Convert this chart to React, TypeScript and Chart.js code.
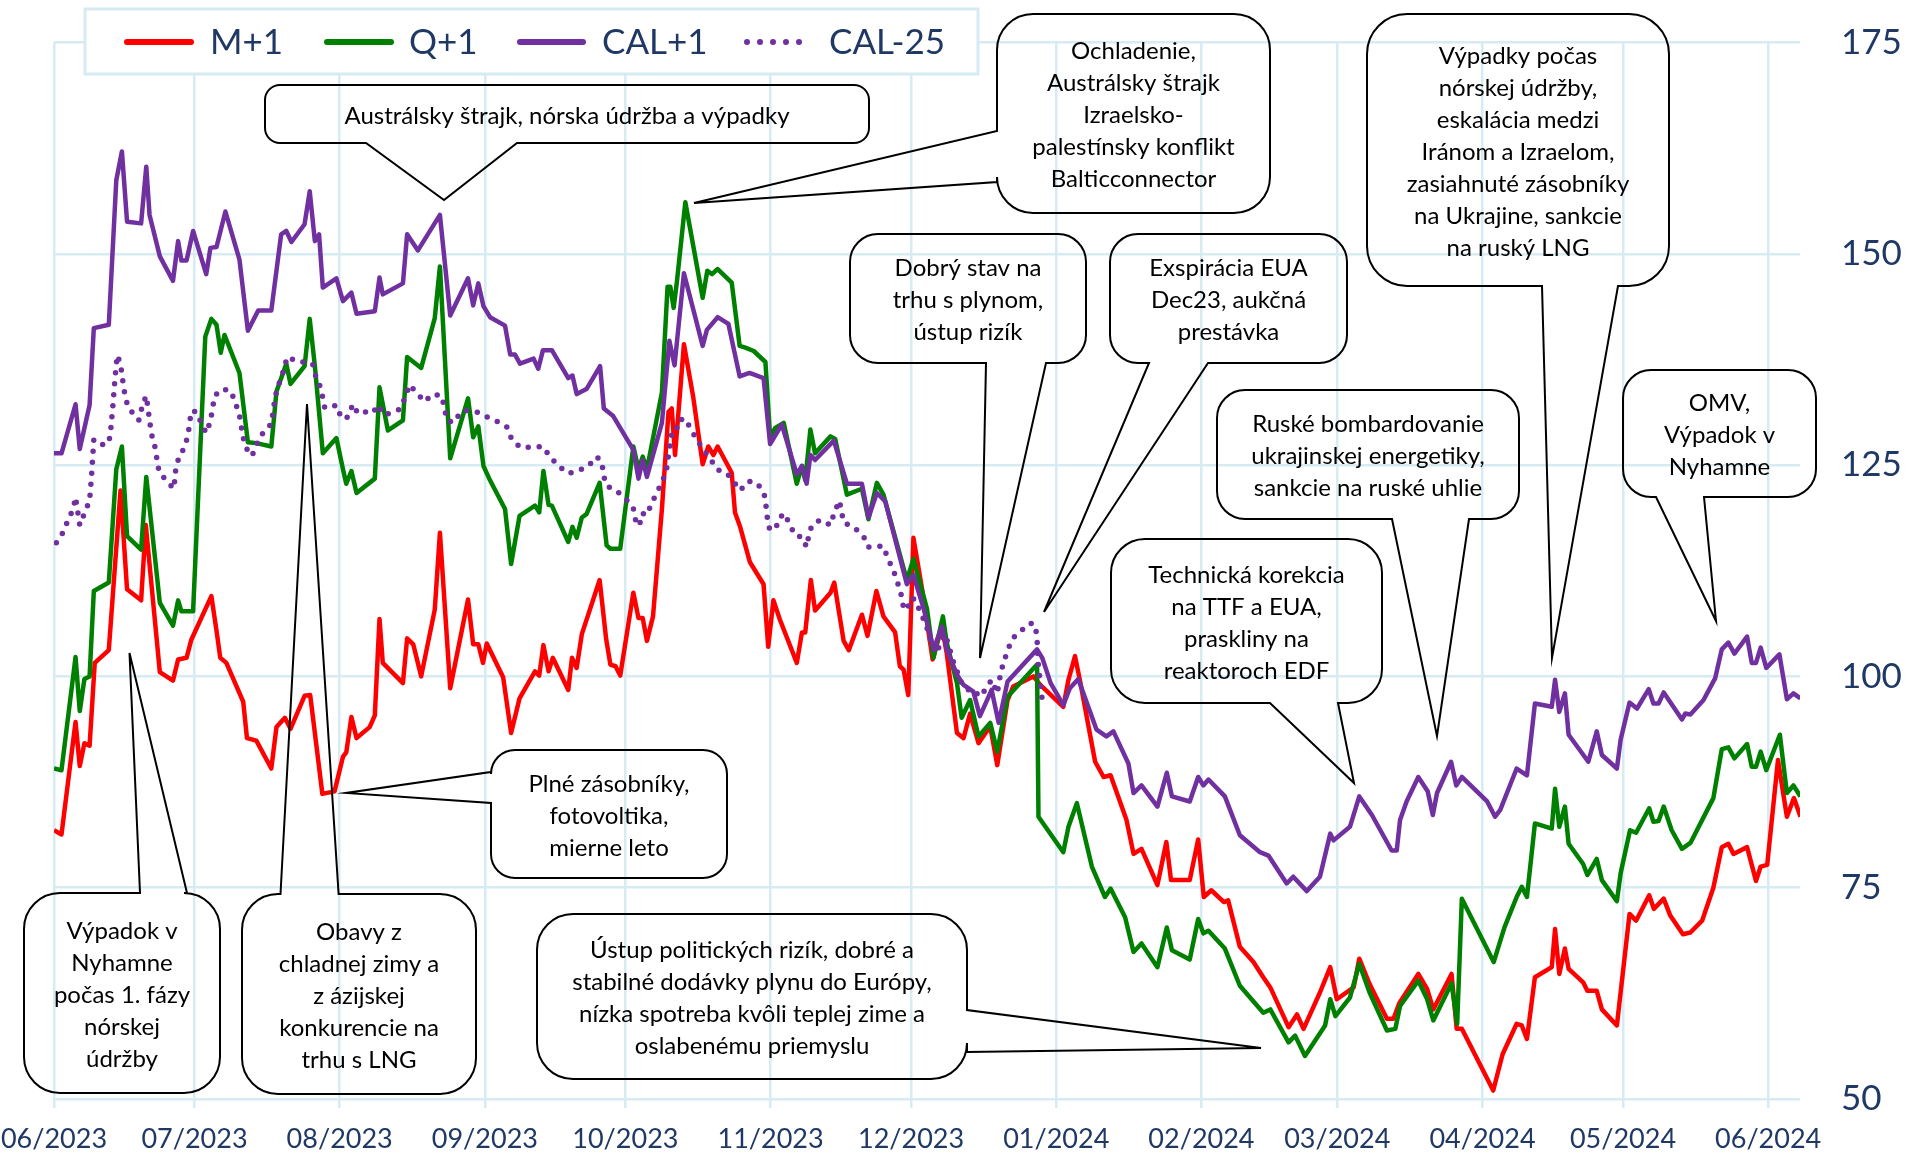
import React, { useEffect, useRef } from "react";
import { Chart, registerables } from "chart.js";

Chart.register(...registerables);

// x values are days counted from 1 June 2023
const MONTH_TICKS = [0, 30, 61, 92, 122, 153, 183, 214, 245, 274, 305, 335, 366];
const MONTH_LABELS = ["06/2023", "07/2023", "08/2023", "09/2023", "10/2023", "11/2023", "12/2023", "01/2024", "02/2024", "03/2024", "04/2024", "05/2024", "06/2024"];
const X_MAX = 372.8;
const Y_MIN = 50;
const Y_MAX = 175;
const Y_STEP = 25;

const SERIES_NAMES = ["M+1", "Q+1", "CAL+1", "CAL-25"];

const M1_DAYS = [0, 1.6, 4.6, 5.5, 6.5, 7.6, 8.7, 11.7, 14.2, 15.6, 18.6, 19.6, 22.6, 25.4, 26.5, 28.3, 29.3, 33.6, 34.7, 35.5, 36.8, 40.4, 41.2, 43.2, 46.4, 47.5, 49.3, 50.5, 53.5, 54.7, 57.3, 59.9, 61.7, 62.4, 63.5, 64.6, 67.4, 68.5, 69.5, 70.2, 74.5, 75.4, 76.7, 78.4, 81.3, 82.4, 84.6, 88.4, 89.5, 90.6, 91.6, 92.4, 95.9, 97.6, 99.4, 102.7, 103.6, 104.5, 105.6, 106.5, 109.8, 110.6, 111.6, 112.7, 116.5, 117.9, 118.8, 119.9, 120.9, 123.7, 124.8, 125.7, 126.6, 127.9, 129.8, 131.2, 131.9, 132.6, 134.5, 136.5, 138.5, 139.7, 140.8, 141.7, 144.7, 145.4, 146.5, 148.6, 151.5, 152.5, 153.6, 155.0, 158.6, 159.7, 160.4, 161.6, 162.5, 165.8, 166.6, 168.6, 169.7, 172.5, 173.7, 175.6, 177.1, 179.6, 180.6, 181.4, 182.4, 183.5, 185.3, 187.6, 189.6, 190.6, 192.8, 194.2, 195.6, 197.4, 199.9, 201.4, 203.6, 204.8, 209.1, 210.6, 215.5, 216.6, 218.0, 219.1, 222.3, 224.1, 225.6, 229.0, 230.5, 232.2, 235.6, 237.5, 238.5, 242.5, 244.3, 245.5, 247.1, 249.8, 250.7, 253.2, 256.1, 258.2, 259.7, 263.6, 265.4, 266.8, 270.3, 272.5, 273.9, 277.5, 278.7, 280.9, 284.6, 286.0, 287.3, 291.3, 293.2, 294.5, 298.4, 299.5, 300.6, 307.3, 309.3, 312.3, 313.4, 314.5, 316.2, 319.8, 320.5, 321.4, 322.6, 323.4, 326.5, 327.4, 329.4, 330.5, 333.7, 336.4, 337.8, 340.6, 341.6, 343.7, 345.1, 347.8, 349.4, 351.9, 354.3, 356.1, 357.5, 358.6, 361.5, 363.4, 364.4, 365.8, 368.1, 370.0, 371.5, 372.9];
const M1_VALUES = [81.8, 81.3, 94.6, 89.4, 92.1, 91.8, 101.6, 103.1, 122.0, 110.3, 109.0, 117.9, 100.5, 99.5, 102.0, 102.2, 104.3, 109.5, 105.4, 102.2, 101.6, 97.0, 92.7, 92.4, 89.1, 94.0, 95.1, 93.8, 97.7, 97.8, 86.1, 86.4, 90.5, 91.0, 95.2, 92.7, 94.0, 95.4, 106.8, 101.6, 99.2, 104.5, 103.8, 100.0, 107.9, 117.0, 98.6, 109.1, 103.8, 103.8, 101.6, 103.9, 99.9, 93.3, 97.4, 100.6, 100.1, 103.7, 100.6, 102.2, 98.4, 102.2, 101.0, 105.0, 111.4, 104.4, 101.4, 101.2, 100.1, 109.9, 106.9, 106.9, 104.2, 107.1, 119.8, 131.3, 131.7, 126.2, 139.3, 133.0, 125.1, 127.2, 126.2, 127.2, 124.1, 119.4, 117.7, 113.5, 110.9, 103.5, 109.0, 106.7, 101.6, 105.2, 105.2, 111.4, 107.8, 109.9, 111.1, 104.2, 103.1, 107.3, 104.8, 110.1, 107.1, 105.2, 101.2, 100.8, 97.8, 116.4, 110.5, 102.0, 105.9, 102.8, 93.3, 92.7, 95.6, 92.1, 94.1, 89.5, 97.2, 98.8, 100.0, 99.0, 96.4, 99.6, 102.4, 99.4, 89.9, 88.1, 88.3, 83.0, 79.0, 79.6, 75.3, 80.4, 75.9, 75.9, 80.7, 73.9, 74.7, 73.3, 73.5, 68.0, 66.2, 64.4, 63.2, 58.5, 60.0, 58.3, 62.6, 65.6, 61.8, 63.2, 66.6, 63.6, 59.5, 59.5, 61.4, 64.8, 63.0, 60.6, 64.8, 58.3, 58.3, 51.0, 55.3, 58.9, 58.7, 57.1, 64.4, 65.6, 70.1, 64.8, 67.8, 65.4, 63.8, 62.8, 62.8, 60.6, 58.7, 71.9, 71.1, 74.1, 72.5, 73.7, 71.7, 69.5, 69.7, 71.1, 75.0, 79.8, 80.2, 79.0, 79.8, 75.8, 77.5, 77.7, 90.1, 83.4, 85.6, 83.4];

const Q1_DAYS = [0, 1.6, 4.6, 5.5, 6.5, 7.6, 8.5, 11.7, 13.3, 14.5, 15.6, 18.6, 19.7, 22.6, 25.4, 26.5, 27.2, 29.7, 32.3, 33.6, 34.7, 35.6, 36.4, 39.6, 41.4, 43.2, 46.4, 47.5, 49.6, 50.5, 53.5, 54.6, 55.7, 57.4, 60.3, 61.7, 62.4, 63.5, 64.6, 68.5, 69.5, 71.3, 74.5, 75.4, 78.4, 81.3, 82.4, 84.6, 88.4, 89.5, 90.6, 91.7, 93.1, 96.3, 97.6, 99.4, 102.7, 103.6, 104.5, 105.6, 106.3, 109.8, 110.7, 111.6, 112.7, 113.7, 116.5, 118.0, 118.8, 120.9, 123.7, 124.8, 125.7, 126.6, 129.8, 131.0, 131.6, 132.3, 133.0, 134.8, 136.7, 138.5, 139.5, 140.5, 141.7, 144.7, 146.4, 147.6, 149.4, 151.9, 152.9, 154.0, 155.8, 158.6, 159.7, 160.4, 161.5, 162.5, 165.8, 166.8, 169.3, 172.5, 173.9, 175.7, 177.1, 182.1, 183.5, 186.4, 187.8, 189.8, 190.6, 192.8, 193.8, 195.6, 197.4, 199.9, 201.4, 203.6, 209.9, 210.2, 215.5, 216.6, 218.4, 221.6, 224.4, 225.6, 228.7, 230.5, 232.2, 235.6, 237.6, 238.7, 242.5, 244.3, 245.4, 246.5, 250.0, 253.2, 258.2, 259.7, 263.6, 265.0, 267.1, 271.4, 272.5, 273.6, 276.7, 278.7, 280.9, 284.6, 286.4, 287.4, 291.3, 293.2, 294.5, 298.4, 299.6, 300.6, 307.4, 309.7, 312.3, 313.4, 314.5, 316.2, 319.8, 320.5, 321.4, 322.6, 323.4, 326.5, 327.4, 329.4, 330.5, 333.7, 334.5, 336.5, 337.8, 340.6, 341.5, 342.6, 343.7, 345.4, 347.6, 349.4, 354.3, 356.1, 357.5, 358.8, 361.5, 362.5, 363.4, 364.4, 365.6, 368.5, 370.0, 371.4, 372.9];
const Q1_VALUES = [89.1, 88.9, 102.3, 95.9, 99.7, 100.0, 110.1, 111.1, 124.5, 127.2, 116.6, 115.0, 123.6, 108.7, 106.0, 109.0, 107.7, 107.7, 140.2, 142.3, 141.6, 138.3, 140.4, 135.9, 127.7, 127.6, 127.2, 133.7, 137.0, 134.6, 136.7, 142.3, 136.7, 126.4, 128.2, 124.5, 122.8, 124.3, 121.7, 123.4, 134.2, 129.1, 130.3, 137.8, 136.5, 142.4, 148.5, 125.8, 132.9, 128.3, 129.6, 124.9, 123.2, 119.8, 113.3, 119.0, 120.2, 119.4, 124.3, 120.3, 120.2, 115.9, 117.7, 116.4, 118.8, 119.2, 122.9, 115.5, 115.1, 115.1, 127.2, 124.5, 126.0, 124.5, 133.6, 146.1, 146.1, 143.6, 146.7, 156.1, 150.3, 144.8, 148.0, 147.6, 148.2, 146.6, 139.1, 138.9, 138.5, 137.2, 128.3, 129.4, 130.0, 122.8, 124.9, 123.2, 129.2, 126.4, 128.4, 128.1, 121.5, 122.2, 118.6, 122.9, 121.5, 111.4, 113.9, 108.0, 102.2, 107.1, 104.0, 99.2, 95.1, 97.2, 92.9, 94.5, 91.1, 97.6, 101.4, 83.4, 79.2, 82.2, 85.0, 77.5, 73.9, 74.9, 71.5, 67.4, 68.4, 65.6, 70.3, 67.6, 66.5, 71.3, 69.6, 69.9, 67.8, 63.4, 60.2, 60.6, 56.7, 57.5, 55.1, 58.7, 61.8, 59.8, 62.0, 66.0, 62.6, 58.1, 58.3, 61.0, 64.0, 61.8, 59.3, 63.7, 58.9, 73.7, 66.2, 70.3, 73.9, 75.1, 73.9, 82.6, 82.0, 86.7, 82.2, 84.6, 80.2, 77.8, 76.5, 78.4, 75.9, 73.4, 76.7, 81.8, 81.5, 84.4, 82.8, 82.9, 84.6, 81.8, 79.6, 80.3, 85.6, 91.4, 91.6, 90.3, 92.0, 89.3, 89.3, 91.1, 88.9, 93.1, 86.2, 87.1, 85.8];

const CAL1_DAYS = [0, 1.6, 4.6, 5.5, 7.6, 8.5, 11.7, 13.3, 14.5, 15.6, 18.6, 19.7, 20.4, 22.6, 25.4, 26.5, 27.2, 28.3, 29.7, 32.5, 33.4, 34.7, 36.6, 39.6, 41.4, 43.6, 46.4, 48.5, 49.6, 50.7, 53.5, 54.6, 55.7, 56.6, 57.4, 60.3, 61.7, 63.5, 64.6, 68.5, 69.5, 70.2, 74.5, 75.4, 77.7, 82.4, 84.6, 88.4, 89.5, 90.6, 91.7, 93.1, 96.3, 97.4, 98.4, 99.5, 102.4, 103.4, 104.4, 106.3, 109.8, 110.7, 111.6, 113.7, 116.6, 117.4, 119.4, 123.7, 124.8, 125.7, 126.6, 129.8, 131.4, 132.5, 134.5, 138.5, 139.4, 141.7, 144.0, 146.4, 148.5, 151.5, 152.9, 155.4, 158.6, 159.7, 160.7, 161.5, 162.5, 166.5, 169.3, 172.5, 173.9, 175.7, 177.5, 182.1, 183.5, 185.7, 187.8, 189.6, 190.6, 192.8, 194.2, 196.3, 197.7, 200.2, 201.7, 203.6, 209.9, 211.0, 212.8, 215.5, 216.9, 218.7, 222.6, 224.7, 226.2, 229.4, 230.5, 232.2, 235.6, 237.6, 238.7, 242.5, 244.3, 245.4, 246.5, 250.0, 253.2, 257.5, 259.3, 263.2, 264.6, 267.5, 270.3, 272.5, 273.2, 276.7, 278.7, 281.4, 285.6, 286.7, 287.4, 288.8, 291.3, 293.3, 294.4, 295.3, 298.3, 299.4, 300.6, 306.0, 307.7, 308.8, 312.3, 314.5, 316.2, 319.8, 320.5, 321.4, 322.6, 323.4, 327.6, 329.4, 330.5, 333.7, 334.5, 336.4, 338.0, 340.5, 341.5, 342.6, 343.7, 347.6, 348.3, 349.4, 352.2, 354.7, 356.1, 357.5, 358.8, 361.5, 362.5, 363.4, 364.4, 365.6, 368.4, 370.0, 371.4, 372.9];
const CAL1_VALUES = [126.4, 126.4, 132.2, 126.9, 132.1, 141.2, 141.6, 158.7, 162.1, 153.8, 153.6, 160.3, 154.6, 149.7, 146.8, 151.5, 149.2, 149.2, 152.7, 147.6, 150.7, 150.8, 155.0, 149.3, 140.9, 143.3, 143.3, 152.3, 152.7, 151.4, 153.5, 157.4, 151.5, 152.3, 146.0, 147.1, 144.4, 145.4, 142.9, 143.2, 147.2, 145.2, 146.5, 152.3, 150.4, 154.6, 142.7, 147.1, 143.9, 146.5, 143.8, 142.5, 141.5, 138.1, 138.1, 137.0, 137.6, 136.4, 138.6, 138.6, 135.3, 135.6, 133.4, 134.0, 136.7, 131.7, 130.8, 126.8, 123.4, 125.6, 123.6, 130.0, 139.7, 136.8, 147.7, 139.1, 141.0, 142.5, 141.7, 135.5, 135.9, 135.3, 127.5, 129.8, 123.9, 124.9, 122.8, 126.2, 125.6, 127.9, 122.8, 122.8, 118.8, 121.7, 120.7, 110.9, 112.0, 108.0, 103.2, 105.9, 103.2, 100.2, 99.0, 98.2, 95.3, 98.4, 94.5, 99.4, 103.2, 102.2, 99.2, 96.6, 98.6, 99.7, 93.7, 92.9, 93.5, 89.7, 86.2, 87.1, 84.6, 88.6, 85.8, 85.2, 88.1, 87.1, 87.8, 85.8, 81.2, 79.2, 78.8, 75.5, 76.3, 74.6, 76.3, 81.4, 80.6, 82.2, 85.8, 83.6, 79.4, 79.4, 83.0, 85.2, 88.1, 86.4, 83.6, 86.2, 89.9, 87.1, 88.1, 85.2, 83.4, 84.2, 89.1, 88.3, 96.8, 96.4, 99.6, 95.8, 98.0, 93.1, 89.9, 93.5, 90.7, 89.1, 92.5, 96.9, 96.2, 98.5, 96.8, 96.8, 98.1, 94.9, 95.6, 95.5, 97.2, 99.8, 103.2, 104.0, 102.7, 104.7, 101.6, 101.6, 103.4, 101.0, 102.6, 97.3, 98.0, 97.4];

const CAL25_DAYS = [0.5, 1.9, 3.0, 4.1, 4.6, 5.5, 6.5, 7.6, 8.0, 8.5, 10.1, 11.7, 12.1, 12.6, 13.0, 13.5, 14.2, 14.9, 15.4, 16.3, 18.1, 19.0, 19.7, 20.8, 21.5, 22.4, 24.0, 25.6, 26.1, 27.2, 27.9, 28.6, 29.3, 30.4, 31.5, 32.5, 33.4, 34.3, 35.9, 37.7, 38.6, 39.6, 40.0, 40.5, 41.4, 42.3, 43.2, 44.5, 46.4, 47.1, 47.6, 48.7, 49.8, 52.1, 53.9, 55.2, 56.0, 56.7, 57.3, 57.8, 58.7, 60.3, 61.4, 62.8, 63.8, 64.9, 66.3, 67.8, 69.4, 70.2, 71.5, 73.8, 74.9, 75.9, 77.7, 79.1, 80.9, 82.7, 83.4, 83.8, 85.2, 87.0, 88.4, 90.2, 92.0, 94.5, 96.7, 97.7, 99.5, 102.2, 104.4, 105.9, 107.7, 109.8, 111.8, 114.1, 115.9, 117.0, 117.3, 117.9, 120.2, 122.1, 123.7, 124.1, 125.0, 125.5, 126.6, 127.6, 128.7, 130.0, 130.8, 131.2, 131.6, 131.9, 132.8, 133.3, 134.8, 136.0, 137.4, 138.8, 140.1, 141.5, 143.7, 145.2, 146.5, 148.3, 150.1, 151.6, 152.0, 152.3, 152.8, 154.0, 155.0, 155.9, 157.0, 158.2, 159.7, 160.7, 161.1, 161.8, 163.6, 165.8, 166.6, 167.7, 168.6, 170.9, 172.9, 173.8, 175.6, 177.1, 178.0, 179.2, 180.0, 180.8, 181.3, 182.0, 183.2, 184.0, 185.0, 186.1, 187.2, 188.3, 190.3, 192.1, 193.8, 194.9, 196.3, 197.6, 198.8, 200.2, 201.4, 202.0, 202.7, 203.6, 204.5, 206.3, 208.4, 209.5, 209.9, 210.0, 210.2, 210.6, 211.0];
const CAL25_VALUES = [115.8, 117.0, 118.5, 119.8, 121.2, 117.9, 119.3, 120.8, 123.6, 128.0, 127.4, 127.6, 129.1, 132.2, 135.1, 138.0, 137.0, 134.1, 132.6, 131.5, 130.3, 132.3, 133.2, 128.7, 127.3, 124.3, 123.1, 122.2, 125.1, 126.4, 127.2, 128.5, 131.4, 131.3, 129.9, 128.8, 130.2, 133.2, 134.0, 133.8, 132.6, 130.9, 129.5, 128.0, 126.6, 126.1, 127.4, 128.7, 129.9, 132.6, 134.0, 135.6, 137.8, 137.2, 137.2, 137.0, 135.3, 134.5, 133.2, 131.8, 131.8, 132.1, 130.5, 130.7, 132.2, 131.1, 131.3, 131.1, 132.1, 131.0, 131.1, 131.6, 132.9, 134.5, 133.4, 132.5, 133.4, 133.2, 131.8, 130.4, 130.0, 131.3, 131.5, 131.3, 130.8, 130.2, 129.5, 128.1, 127.1, 127.1, 127.2, 126.0, 124.9, 124.0, 124.3, 124.9, 126.0, 125.3, 123.9, 122.6, 121.9, 121.0, 119.9, 118.6, 117.8, 119.3, 119.1, 120.5, 121.7, 123.2, 124.5, 126.2, 127.5, 128.7, 128.8, 130.3, 130.5, 129.2, 127.9, 126.7, 125.8, 124.5, 124.0, 123.0, 122.0, 123.1, 122.9, 121.7, 120.3, 118.8, 117.4, 117.4, 118.8, 119.3, 118.1, 116.7, 116.5, 115.3, 116.5, 117.9, 118.5, 117.9, 119.4, 120.8, 118.2, 117.6, 116.5, 115.3, 115.4, 115.4, 114.0, 112.6, 111.3, 109.9, 108.4, 107.8, 109.3, 109.0, 107.5, 106.3, 104.2, 102.7, 105.0, 101.6, 99.2, 98.4, 98.5, 97.6, 98.4, 99.6, 98.0, 100.0, 101.6, 103.0, 104.4, 105.3, 106.3, 106.1, 104.5, 103.0, 101.2, 99.2, 97.2];

const RED = "#ff0000";
const GREEN = "#008000";
const PURPLE = "#7030a0";
const NAVY = "#1f3864";
const GRID = "#d7ebf3";
const FONT = "Lato";

type Callout = {
  x: number; y: number; w: number; h: number; r: number;
  side: "top" | "bottom" | "left" | "right";
  a: number; b: number; tipX: number; tipY: number;
  lines: string[];
};

const CALLOUTS: Callout[] = [
  { x: 265, y: 85, w: 604, h: 58, r: 15, side: "bottom", a: 366, b: 517, tipX: 444, tipY: 200, lines: ["Austrálsky štrajk, nórska údržba a výpadky"] },
  { x: 997, y: 14, w: 273, h: 199, r: 36, side: "left", a: 131, b: 182, tipX: 694, tipY: 203, lines: ["Ochladenie,", "Austrálsky štrajk", "Izraelsko-", "palestínsky konflikt", "Balticconnector"] },
  { x: 850, y: 234, w: 236, h: 129, r: 28, side: "bottom", a: 986, b: 1046, tipX: 980, tipY: 658, lines: ["Dobrý stav na", "trhu s plynom,", "ústup rizík"] },
  { x: 1110, y: 234, w: 237, h: 129, r: 28, side: "bottom", a: 1149, b: 1208, tipX: 1044, tipY: 612, lines: ["Exspirácia EUA", "Dec23, aukčná", "prestávka"] },
  { x: 1367, y: 14, w: 302, h: 272, r: 40, side: "bottom", a: 1542, b: 1618, tipX: 1552, tipY: 658, lines: ["Výpadky počas", "nórskej údržby,", "eskalácia medzi", "Iránom a Izraelom,", "zasiahnuté zásobníky", "na Ukrajine, sankcie", "na ruský LNG"] },
  { x: 1217, y: 390, w: 302, h: 129, r: 28, side: "bottom", a: 1392, b: 1469, tipX: 1437, tipY: 736, lines: ["Ruské bombardovanie", "ukrajinskej energetiky,", "sankcie na ruské uhlie"] },
  { x: 1111, y: 539, w: 271, h: 164, r: 34, side: "bottom", a: 1270, b: 1338, tipX: 1354, tipY: 783, lines: ["Technická korekcia", "na TTF a EUA,", "praskliny na", "reaktoroch EDF"] },
  { x: 1623, y: 370, w: 193, h: 127, r: 28, side: "bottom", a: 1656, b: 1704, tipX: 1716, tipY: 621, lines: ["OMV,", "Výpadok v", "Nyhamne"] },
  { x: 537, y: 914, w: 430, h: 165, r: 36, side: "right", a: 1010, b: 1052, tipX: 1261, tipY: 1048, lines: ["Ústup politických rizík, dobré a", "stabilné dodávky plynu do Európy,", "nízka spotreba kvôli teplej zime a", "oslabenému priemyslu"] },
  { x: 24, y: 893, w: 196, h: 200, r: 36, side: "top", a: 140, b: 187, tipX: 129.5, tipY: 653, lines: ["Výpadok v", "Nyhamne", "počas 1. fázy", "nórskej", "údržby"] },
  { x: 242, y: 894, w: 234, h: 200, r: 36, side: "top", a: 280.5, b: 338.6, tipX: 307, tipY: 404, lines: ["Obavy z", "chladnej zimy a", "z ázijskej", "konkurencie na", "trhu s LNG"] },
  { x: 491, y: 750, w: 236, h: 128, r: 24, side: "left", a: 772, b: 803, tipX: 346, tipY: 793, lines: ["Plné zásobníky,", "fotovoltika,", "mierne leto"] },
];

function calloutPath(ctx: CanvasRenderingContext2D, c: Callout) {
  const { x, y, w, h, r, side, a, b, tipX, tipY } = c;
  const R = x + w;
  const B = y + h;
  ctx.beginPath();
  ctx.moveTo(x + r, y);
  if (side === "top") { ctx.lineTo(a, y); ctx.lineTo(tipX, tipY); ctx.lineTo(b, y); }
  ctx.lineTo(R - r, y);
  ctx.arcTo(R, y, R, y + r, r);
  if (side === "right") { ctx.lineTo(R, a); ctx.lineTo(tipX, tipY); ctx.lineTo(R, b); }
  ctx.lineTo(R, B - r);
  ctx.arcTo(R, B, R - r, B, r);
  if (side === "bottom") { ctx.lineTo(b, B); ctx.lineTo(tipX, tipY); ctx.lineTo(a, B); }
  ctx.lineTo(x + r, B);
  ctx.arcTo(x, B, x, B - r, r);
  if (side === "left") { ctx.lineTo(x, b); ctx.lineTo(tipX, tipY); ctx.lineTo(x, a); }
  ctx.lineTo(x, y + r);
  ctx.arcTo(x, y, x + r, y, r);
  ctx.closePath();
}

const overlayPlugin = {
  id: "overlay",
  afterDraw(chart: any) {
    const ctx: CanvasRenderingContext2D = chart.ctx;
    ctx.save();
    ctx.lineWidth = 2;
    ctx.strokeStyle = "#000";
    ctx.lineJoin = "miter";
    for (const c of CALLOUTS) {
      calloutPath(ctx, c);
      ctx.stroke();
      ctx.fillStyle = "#000";
      ctx.font = `24px ${FONT}`;
      ctx.textAlign = "center";
      ctx.textBaseline = "middle";
      const lh = 32;
      const cx = c.x + c.w / 2;
      const cy = c.y + c.h / 2 + 2;
      const start = cy - ((c.lines.length - 1) * lh) / 2;
      c.lines.forEach((t, i) => ctx.fillText(t, cx, start + i * lh));
    }
    // legend
    ctx.fillStyle = "#fff";
    ctx.fillRect(85, 9, 893, 65);
    ctx.strokeStyle = GRID;
    ctx.lineWidth = 3;
    ctx.strokeRect(85, 9, 893, 65);
    const items = [
      { color: RED, x1: 127, x2: 191, tx: 210, dotted: false },
      { color: GREEN, x1: 327, x2: 391, tx: 409, dotted: false },
      { color: PURPLE, x1: 520, x2: 583, tx: 602, dotted: false },
      { color: PURPLE, x1: 747, x2: 812, tx: 829, dotted: true },
    ];
    items.forEach((it, i) => {
      ctx.beginPath();
      ctx.strokeStyle = it.color;
      ctx.lineWidth = 6;
      ctx.lineCap = "round";
      ctx.setLineDash(it.dotted ? [0, 13] : []);
      ctx.moveTo(it.x1, 42);
      ctx.lineTo(it.x2, 42);
      ctx.stroke();
      ctx.setLineDash([]);
      ctx.fillStyle = NAVY;
      ctx.font = `35px ${FONT}`;
      ctx.textAlign = "left";
      ctx.textBaseline = "middle";
      ctx.fillText(SERIES_NAMES[i], it.tx, 43);
    });
    ctx.restore();
  },
};

function pts(days: number[], vals: number[]) {
  return days.map((d, i) => ({ x: d, y: vals[i] }));
}

export default function App() {
  const ref = useRef<HTMLCanvasElement | null>(null);
  useEffect(() => {
    if (!ref.current) return;
    Chart.defaults.font.family = FONT;
    const chart = new Chart(ref.current, {
      type: "line",
      data: {
        datasets: [
          { label: SERIES_NAMES[0], data: pts(M1_DAYS, M1_VALUES), borderColor: RED, borderWidth: 4.5, order: 4 },
          { label: SERIES_NAMES[1], data: pts(Q1_DAYS, Q1_VALUES), borderColor: GREEN, borderWidth: 4.5, order: 3 },
          { label: SERIES_NAMES[2], data: pts(CAL1_DAYS, CAL1_VALUES), borderColor: PURPLE, borderWidth: 4.5, order: 2 },
          { label: SERIES_NAMES[3], data: pts(CAL25_DAYS, CAL25_VALUES), borderColor: PURPLE, borderWidth: 5.5, borderDash: [0, 11], borderCapStyle: "round", order: 1 },
        ],
      },
      options: {
        animation: false,
        responsive: false,
        maintainAspectRatio: false,
        parsing: false,
        layout: { padding: { left: 54, top: 42.5, right: 0, bottom: 0 } },
        plugins: { legend: { display: false }, tooltip: { enabled: false } },
        elements: { point: { radius: 0 }, line: { tension: 0, borderJoinStyle: "round" } },
        scales: {
          x: {
            type: "linear",
            min: 0,
            max: X_MAX,
            position: "bottom",
            afterBuildTicks: (s: any) => { s.ticks = MONTH_TICKS.map((v) => ({ value: v })); },
            ticks: {
              autoSkip: false,
              maxRotation: 0,
              padding: 15,
              color: NAVY,
              font: { family: FONT, size: 27 },
              callback: (v: any) => MONTH_LABELS[MONTH_TICKS.indexOf(Number(v))] ?? "",
            },
            grid: { color: GRID, lineWidth: 2.5, drawTicks: true, tickLength: 9 },
            border: { display: false },
            afterFit: (s: any) => { s.height = 57; s.paddingLeft = 0; s.paddingRight = 0; s.paddingTop = 0; s.paddingBottom = 0; },
          },
          y: {
            position: "right",
            min: Y_MIN,
            max: Y_MAX,
            ticks: { stepSize: Y_STEP, padding: 41, color: NAVY, font: { family: FONT, size: 35 } },
            grid: { color: GRID, lineWidth: 2.5, drawTicks: false },
            border: { display: false },
            afterFit: (s: any) => { s.width = 115; s.paddingLeft = 0; s.paddingRight = 0; s.paddingTop = 0; s.paddingBottom = 0; },
          },
        },
      } as any,
      plugins: [overlayPlugin],
    });
    return () => chart.destroy();
  }, []);
  return (
    <div style={{ position: "absolute", left: 0, top: 0, width: 1915, height: 1156, background: "#fff" }}>
      <canvas ref={ref} width={1915} height={1156} style={{ display: "block" }} />
    </div>
  );
}
